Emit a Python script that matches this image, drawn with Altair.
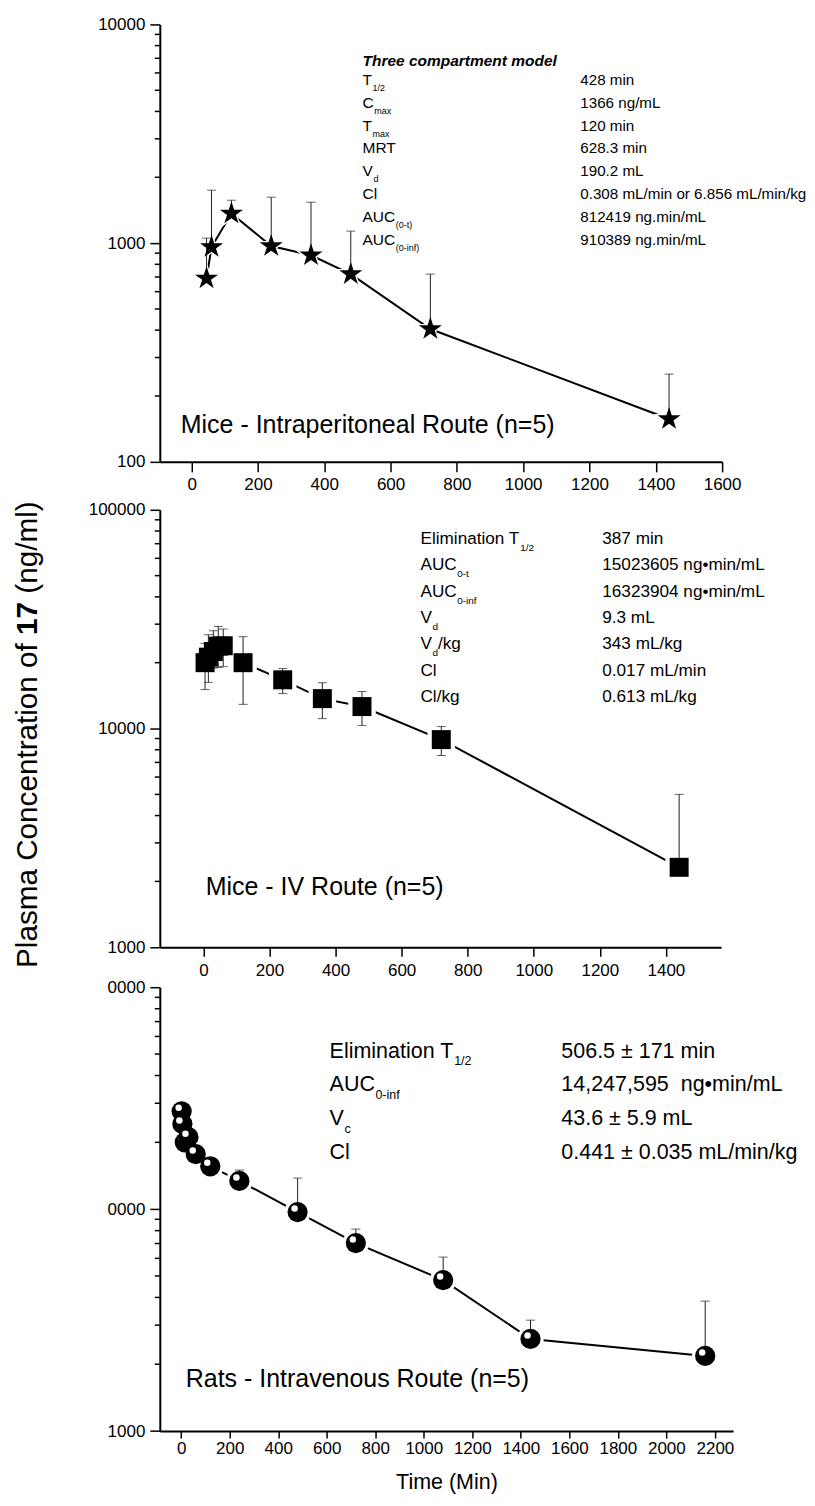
import math
import altair as alt
import pandas as pd

FONT = "Liberation Sans"

# ---------------- data ----------------
# Panel 1: mice, intraperitoneal
ip_time = [45, 60, 120, 240, 360, 480, 720, 1440]
ip_conc = [690, 960, 1366, 970, 880, 722, 405, 157]
ip_upper = [1054, 1746, 1571, 1622, 1538, 1135, 722, 252]

# Panel 2: mice, IV
iv_time = [5, 15, 30, 45, 60, 120, 240, 360, 480, 720, 1440]
iv_conc = [20000, 21200, 22500, 23800, 23900, 20000, 16700, 13700, 12600, 8900, 2320]
iv_upper = [24500, 26850, 28000, 29300, 28500, 26300, 18800, 16200, 14760, 10210, 5000]
iv_lower = [15070, 16250, 18900, 19000, 19200, 12900, 14450, 11100, 10330, 7530, 2320]

# Panel 3: rats, IV
rat_time = [2, 5, 15, 30, 60, 120, 240, 480, 720, 1080, 1440, 2160]
rat_conc = [27600, 24200, 20000, 21100, 17700, 15600, 13400, 9700, 7030, 4790, 2600, 2180]
rat_upper = [27600, 24200, 20000, 21100, 17700, 15600, 15000, 13800, 8130, 6080, 3160, 3850]

# axis ticks
ip_xticks = [0, 200, 400, 600, 800, 1000, 1200, 1400, 1600]
iv_xticks = [0, 200, 400, 600, 800, 1000, 1200, 1400]
rat_xticks = [0, 200, 400, 600, 800, 1000, 1200, 1400, 1600, 1800, 2000, 2200]
ip_yticks = [100, 1000, 10000]
iv_yticks = [1000, 10000, 100000]
rat_yticks = [1000, 10000, 100000]
ip_minor = [200, 300, 400, 500, 600, 700, 800, 900, 2000, 3000, 4000, 5000, 6000, 7000, 8000, 9000]
iv_minor = [2000, 3000, 4000, 5000, 6000, 7000, 8000, 9000,
            20000, 30000, 40000, 50000, 60000, 70000, 80000, 90000]
rat_minor = iv_minor

# annotation texts
ip_title = "Three compartment model"
ip_labels = ["T", "C", "T", "MRT", "V", "Cl", "AUC", "AUC"]
ip_subs = ["1/2", "max", "max", "", "d", "", "(0-t)", "(0-inf)"]
ip_posts = ["", "", "", "", "", "", "", ""]
ip_values = ["428 min", "1366 ng/mL", "120 min", "628.3 min", "190.2 mL",
             "0.308 mL/min or 6.856 mL/min/kg", "812419 ng.min/mL", "910389 ng.min/mL"]

iv_labels = ["Elimination T", "AUC", "AUC", "V", "V", "Cl", "Cl/kg"]
iv_subs = ["1/2", "0-t", "0-inf", "d", "d", "", ""]
iv_posts = ["", "", "", "", "/kg", "", ""]
iv_values = ["387 min", "15023605 ng\u2022min/mL", "16323904 ng\u2022min/mL", "9.3 mL",
             "343 mL/kg", "0.017 mL/min", "0.613 mL/kg"]

rat_labels = ["Elimination T", "AUC", "V", "Cl"]
rat_subs = ["1/2", "0-inf", "c", ""]
rat_posts = ["", "", "", ""]
rat_values = ["506.5 \u00b1 171 min", "14,247,595\u00a0 ng\u2022min/mL", "43.6 \u00b1 5.9 mL",
              "0.441 \u00b1 0.035 mL/min/kg"]

ip_name = "Mice - Intraperitoneal Route (n=5)"
iv_name = "Mice - IV Route (n=5)"
rat_name = "Rats - Intravenous Route (n=5)"
y_title = ["Plasma Concentration of", "17", "(ng/ml)"]
x_title = "Time (Min)"

# ---------------- helpers ----------------
AW = {' ': 278, '\u00a0': 278, '(': 333, ')': 333, ',': 278, '-': 333, '.': 278, '/': 278,
      '=': 584, 'A': 667, 'C': 722, 'E': 667, 'I': 278, 'L': 556, 'M': 833, 'P': 667,
      'R': 722, 'T': 611, 'U': 722, 'V': 667, 'a': 556, 'c': 500, 'd': 556, 'e': 556,
      'f': 278, 'g': 556, 'i': 222, 'k': 500, 'l': 222, 'm': 833, 'n': 556, 'o': 556,
      'p': 556, 'r': 333, 's': 500, 't': 278, 'x': 500, '\u2022': 350, '\u00b1': 549}


def tw(s, fs):
    return sum(AW.get(ch, 556) for ch in s) / 1000.0 * fs


pts = []
for k in range(10):
    r = 1.0 if k % 2 == 0 else 0.382
    a = math.radians(-90 + 36 * k)
    pts.append(f"{r * math.cos(a):.3f},{r * math.sin(a):.3f}")
STAR = "M" + "L".join(pts) + "Z"


def axes(xdom, ydom, xvals, yvals, xtick, xpad, ylabelexpr=None, xtitle=None,
         yrange=None, xoffset=0):
    xs = alt.Scale(domain=xdom, nice=False, zero=False)
    if yrange:
        ys = alt.Scale(type="log", domain=ydom, nice=False, range=yrange)
    else:
        ys = alt.Scale(type="log", domain=ydom, nice=False)
    xkw = dict(values=xvals, tickSize=xtick, labelPadding=xpad, labelFontSize=17,
               labelFont=FONT, labelColor="black", domainWidth=2, tickWidth=1.5,
               domainColor="black", tickColor="black", grid=False, labelOverlap=False,
               labelFlush=False, format="d")
    if xoffset:
        xkw.update(offset=xoffset)
    if xtitle:
        xkw.update(title=xtitle, titleFont=FONT, titleFontSize=21.5, titleFontWeight="normal",
                   titleColor="black", titlePadding=16)
    else:
        xkw.update(title=None)
    ykw = dict(values=yvals, tickSize=10, labelPadding=5, labelFontSize=17, labelFont=FONT,
               labelColor="black", domainWidth=2, tickWidth=1.5, domainColor="black",
               tickColor="black", grid=False, labelOverlap=False, labelFlush=False,
               format="d", title=None)
    if ylabelexpr:
        ykw.update(labelExpr=ylabelexpr)
    xax = alt.Axis(**xkw)
    yax = alt.Axis(**ykw)

    def X(f):
        return alt.X(f"{f}:Q", scale=xs, axis=xax)

    def Y(f):
        return alt.Y(f"{f}:Q", scale=ys, axis=yax)
    return X, Y


def minor_layer(minors, Y):
    return alt.Chart(pd.DataFrame({"m": minors})).mark_rule(
        color="black", strokeWidth=1.5).encode(y=Y("m"), x=alt.value(-5), x2=alt.value(0))


def annot_layers(labels, subs, posts, values, xl, xv, y0, dy, fs, sfs, drop, title=None,
                 title_y=None, vfs=None):
    vfs = vfs or fs
    rows = []
    for i, (lab, sb, po, val) in enumerate(zip(labels, subs, posts, values)):
        yb = y0 + i * dy + 0.358 * fs
        xs = xl + tw(lab, fs) + 0.5
        rows.append(dict(lab=lab, sub=sb, post=po, val=val, yb=yb, ys=yb + drop,
                         xs=xs, xp=xs + tw(sb, sfs)))
    df = pd.DataFrame(rows)
    b = alt.Chart(df)
    common = dict(align="left", baseline="alphabetic", font=FONT, color="black")
    out = [
        b.mark_text(fontSize=fs, **common).encode(
            x=alt.value(xl), y=alt.Y("yb:Q", scale=None, axis=None), text="lab:N"),
        b.mark_text(fontSize=sfs, **common).encode(
            x=alt.X("xs:Q", scale=None, axis=None), y=alt.Y("ys:Q", scale=None, axis=None),
            text="sub:N"),
        b.mark_text(fontSize=fs, **common).encode(
            x=alt.X("xp:Q", scale=None, axis=None), y=alt.Y("yb:Q", scale=None, axis=None),
            text="post:N"),
        b.mark_text(fontSize=vfs, **common).encode(
            x=alt.value(xv), y=alt.Y("yb:Q", scale=None, axis=None), text="val:N"),
    ]
    if title:
        out.append(alt.Chart(pd.DataFrame({"t": [title]})).mark_text(
            fontSize=fs, fontWeight="bold", fontStyle="italic", **common).encode(
            x=alt.value(xl), y=alt.value(title_y + 0.358 * fs), text="t:N"))
    return out


def name_layer(name, x, ycenter):
    return alt.Chart(pd.DataFrame({"t": [name]})).mark_text(
        align="left", baseline="alphabetic", font=FONT, fontSize=25, color="black").encode(
        x=alt.value(x), y=alt.value(ycenter + 0.358 * 25), text="t:N")


# ---------------- panel 1 ----------------
X1, Y1 = axes([-96, 1600], [100, 10000], ip_xticks, ip_yticks, 10, 5)
d1 = pd.DataFrame({"t": ip_time, "c": ip_conc, "u": ip_upper})
b1 = alt.Chart(d1)
p1 = alt.layer(
    minor_layer(ip_minor, Y1),
    b1.mark_line(color="black", strokeWidth=2).encode(x=X1("t"), y=Y1("c")),
    b1.mark_point(shape=STAR, filled=True, color="white", opacity=1, size=1100).encode(
        x=X1("t"), y=Y1("c")),
    b1.mark_rule(color="#222", strokeWidth=1).encode(x=X1("t"), y=Y1("c"), y2="u:Q"),
    b1.mark_tick(orient="horizontal", size=9, thickness=1, color="#222").encode(
        x=X1("t"), y=Y1("u")),
    b1.mark_point(shape=STAR, filled=True, color="black", opacity=1, size=590).encode(
        x=X1("t"), y=Y1("c")),
    *annot_layers(ip_labels, ip_subs, ip_posts, ip_values, 203, 421, 54.7, 23, 15.5, 9, 6,
                  title=ip_title, title_y=35.7, vfs=15.2),
    name_layer(ip_name, 21, 400),
).properties(width=563, height=438)

# ---------------- panel 2 ----------------
# plot group starts 4px above the 100000 line so the stacked gaps match
S2 = 4.0
X2, Y2 = axes([-132, 1567], [1000, 100000], iv_xticks, iv_yticks, 9, 6,
              yrange=[438 + S2, S2], xoffset=S2)
d2 = pd.DataFrame({"t": iv_time, "c": iv_conc, "u": iv_upper, "lo": iv_lower})
b2 = alt.Chart(d2)
tparts = []
ybot = 458.7 + S2
off = 0.0
TFS = 29.7
for k, part in enumerate(y_title):
    fw = "bold" if k == 1 else "normal"
    tparts.append(alt.Chart(pd.DataFrame({"t": [part]})).mark_text(
        align="left", baseline="alphabetic", angle=270, font=FONT, fontSize=TFS,
        fontWeight=fw, color="black").encode(
        x=alt.value(-123), y=alt.value(ybot - off), text="t:N"))
    off += tw(part, TFS) + tw(" ", TFS)
p2 = alt.layer(
    minor_layer(iv_minor, Y2),
    b2.mark_line(color="black", strokeWidth=2).encode(x=X2("t"), y=Y2("c")),
    b2.mark_point(shape="square", filled=True, color="white", opacity=1, size=760).encode(
        x=X2("t"), y=Y2("c")),
    b2.mark_rule(color="#222", strokeWidth=1).encode(x=X2("t"), y=Y2("lo"), y2="u:Q"),
    b2.mark_tick(orient="horizontal", size=9, thickness=1, color="#222").encode(
        x=X2("t"), y=Y2("u")),
    b2.mark_tick(orient="horizontal", size=9, thickness=1, color="#222").encode(
        x=X2("t"), y=Y2("lo")),
    b2.mark_point(shape="square", filled=True, color="black", opacity=1, size=361).encode(
        x=X2("t"), y=Y2("c")),
    *annot_layers(iv_labels, iv_subs, iv_posts, iv_values, 261, 443, 27.7 + S2, 26.5, 17.2,
                  10, 7),
    name_layer(iv_name, 46, 377 + S2),
    *tparts,
).properties(width=562, height=438)

# ---------------- panel 3 ----------------
X3, Y3 = axes([-88, 2275], [1000, 100000], rat_xticks, rat_yticks, 7, 2,
              ylabelexpr="datum.value == 1000 ? '1000' : '0000'", xtitle=x_title)
d3 = pd.DataFrame({"i": list(range(len(rat_time))), "t": rat_time, "c": rat_conc,
                   "u": rat_upper})
b3 = alt.Chart(d3)
circ = []
for i in range(len(rat_time)):
    s = b3.transform_filter(alt.datum.i == i)
    circ.append(s.mark_point(shape="circle", filled=True, color="black", opacity=1,
                             size=410).encode(x=X3("t"), y=Y3("c")))
    circ.append(s.mark_point(shape="circle", filled=True, color="white", opacity=1,
                             size=42, xOffset=-3, yOffset=-3.5).encode(x=X3("t"), y=Y3("c")))
p3 = alt.layer(
    minor_layer(rat_minor, Y3),
    b3.mark_line(color="black", strokeWidth=2).encode(x=X3("t"), y=Y3("c")),
    b3.mark_point(shape="circle", filled=True, color="white", opacity=1, size=700).encode(
        x=X3("t"), y=Y3("c")),
    b3.mark_rule(color="#222", strokeWidth=1).encode(x=X3("t"), y=Y3("c"), y2="u:Q"),
    b3.transform_filter(alt.datum.u > alt.datum.c).mark_tick(
        orient="horizontal", size=9, thickness=1, color="#222").encode(x=X3("t"), y=Y3("u")),
    *circ,
    *annot_layers(rat_labels, rat_subs, rat_posts, rat_values, 170, 402, 62.7, 34, 21.5,
                  12.5, 7.5),
    name_layer(rat_name, 26, 391),
).properties(width=574, height=444.4)

chart = alt.vconcat(p1, p2, p3, spacing=44, bounds="flush").properties(
    padding={"left": 4, "top": 6.5, "right": 0, "bottom": 0}
).configure_view(stroke=None)

chart.save("out.html", embed_options={"renderer": "svg", "actions": False})
